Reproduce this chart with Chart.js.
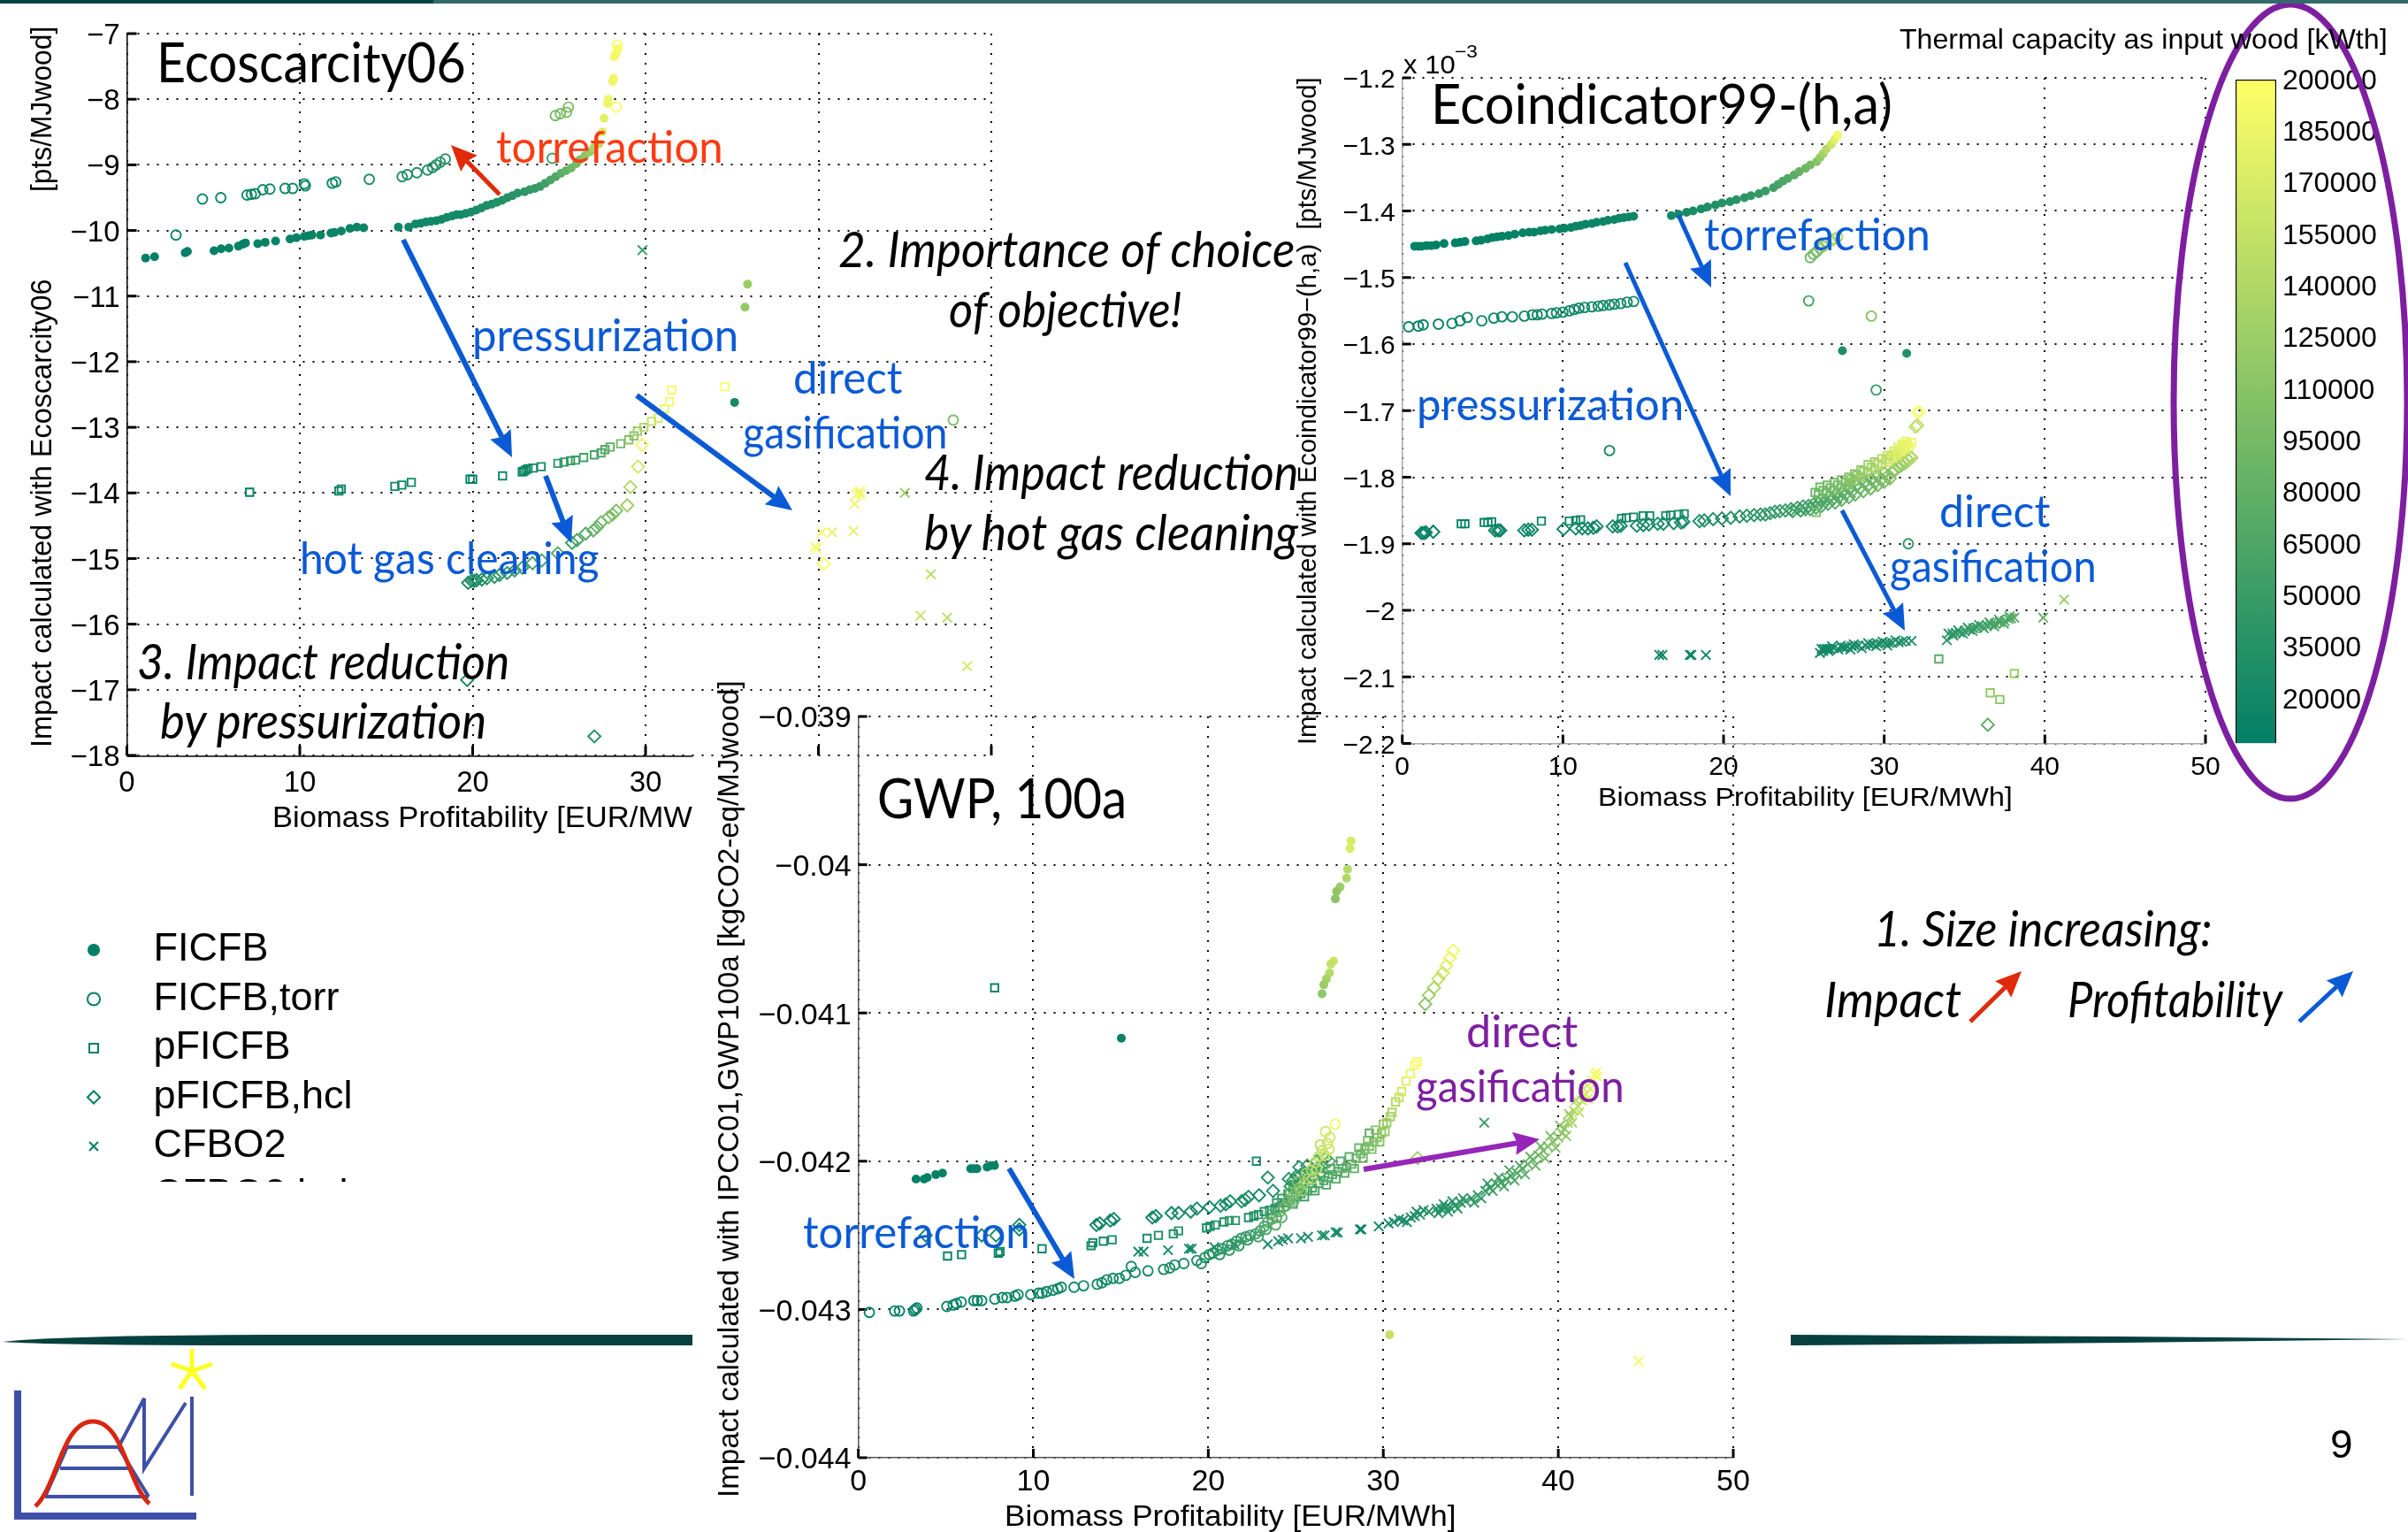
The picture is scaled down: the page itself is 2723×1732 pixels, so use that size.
<!DOCTYPE html>
<html>
<head>
<meta charset="utf-8">
<title>Impact vs profitability</title>
<script src="https://cdn.jsdelivr.net/npm/chart.js@4"></script>
<style>
  html, body { margin: 0; padding: 0; background: #fff; }
  #page { position: relative; width: 2723px; height: 1732px; overflow: hidden; background: #fff; }
  #page canvas { position: absolute; left: 0; top: 0; }
  .note { position: absolute; white-space: pre; line-height: 1; transform-origin: 0 50%; font-family: Lato, sans-serif; z-index: 6; }
  .axis-label { font-family: "Liberation Sans", sans-serif; color: #000; }
  .mask { position: absolute; background: #fff; }
</style>
</head>
<body>
<div id="page">
  <canvas id="eco_chart" style="z-index:1"></canvas>
  <canvas id="legend_chart" style="z-index:1"></canvas>
  <div class="mask" style="left:783px;top:857px;width:420px;height:90px;z-index:2"></div>
  <div class="mask" style="left:60px;top:1336px;width:600px;height:70px;z-index:2"></div>
  <canvas id="gwp_chart" style="z-index:3"></canvas>
  <canvas id="ind_chart" style="z-index:4"></canvas>
  <canvas id="bar_chart" style="z-index:4"></canvas>
  <svg id="deco" width="2723" height="1732" style="position:absolute;left:0;top:0;z-index:5"></svg>
</div>
<script>
// every point is [profitability, impact, thermal capacity kW]
var x_ticks = [0, 10, 20, 30, 40, 50];
var capacity_ticks = [200000, 185000, 170000, 155000, 140000, 125000, 110000, 95000, 80000, 65000, 50000, 35000, 20000];
var legend_names = ['FICFB', 'FICFB,torr', 'pFICFB', 'pFICFB,hcl', 'CFBO2', 'CFBO2,hcl'];

// Ecoscarcity06
var eco_y_ticks = [-7, -8, -9, -10, -11, -12, -13, -14, -15, -16, -17, -18];
var eco_ficfb = [[1.08,-10.42,8000],[1.6,-10.4,8000],[3.37,-10.34,8000],[3.5,-10.32,9000],[5.04,-10.31,9000],[5.45,-10.28,9000],[5.9,-10.27,10000],[6.45,-10.24,10000],[6.7,-10.21,10000],[6.86,-10.19,10000],[7.57,-10.2,11000],[8,-10.18,11000],[8.6,-10.16,11000],[9.44,-10.13,12000],[9.8,-10.11,12000],[10.26,-10.09,12000],[10.5,-10.08,12000],[10.7,-10.07,13000],[11.2,-10.07,13000],[11.8,-10.04,13000],[12,-10.03,14000],[12.4,-10.01,14000],[12.9,-9.97,14000],[13.3,-9.95,15000],[13.7,-9.96,15000],[15.7,-9.95,18000],[16.3,-9.95,18000],[16.7,-9.9,19000],[17,-9.89,19000],[17.3,-9.87,20000],[17.6,-9.86,20000],[17.9,-9.85,21000],[18.2,-9.83,21000],[18.5,-9.8,22000],[18.8,-9.78,23000],[19.06,-9.76,24000],[19.3,-9.76,24000],[19.6,-9.74,25000],[19.9,-9.72,26000],[20.2,-9.69,27000],[20.5,-9.66,28000],[20.8,-9.62,29000],[21.1,-9.6,30000],[21.4,-9.57,32000],[21.7,-9.54,33000],[22,-9.5,35000],[22.3,-9.47,37000],[22.6,-9.43,39000],[23,-9.41,42000],[23.3,-9.38,45000],[23.6,-9.36,48000],[23.9,-9.33,52000],[24.2,-9.28,56000],[24.5,-9.23,62000],[24.8,-9.18,68000],[25.1,-9.13,75000],[25.4,-9.09,82000],[25.7,-9.05,90000],[26,-8.98,96000],[26.2,-8.92,102000],[26.5,-8.86,112000],[26.8,-8.8,122000],[27,-8.74,135000],[27.3,-8.68,150000],[27.5,-8.5,172000],[27.6,-8.29,178000],[27.8,-8.06,185000],[27.85,-8,186000],[28.1,-7.73,188000],[28.15,-7.68,188000],[28.2,-7.35,190000],[28.3,-7.3,192000],[28.4,-7.23,194000],[35.9,-10.82,125000],[35.75,-11.17,118000],[35.15,-12.62,22000]];
var eco_torr = [[2.84,-10.07,14000],[4.37,-9.52,16000],[5.43,-9.5,16000],[6.95,-9.46,17000],[7.2,-9.45,17000],[7.42,-9.44,18000],[7.86,-9.38,18000],[8.27,-9.37,19000],[9.15,-9.36,20000],[9.59,-9.36,20000],[10.26,-9.29,20000],[10.32,-9.32,20000],[11.88,-9.28,22000],[12.08,-9.26,22000],[14.02,-9.22,25000],[15.92,-9.18,26000],[16.22,-9.15,28000],[16.77,-9.12,30000],[17.39,-9.08,32000],[17.68,-9.04,33000],[17.89,-9,34000],[18.12,-8.96,35000],[18.42,-8.91,36000],[24.6,-8.9,55000],[24.78,-8.25,95000],[25.07,-8.22,98000],[25.43,-8.2,100000],[25.54,-8.12,105000],[28.3,-8.12,195000],[28.36,-7.18,195000],[47.8,-12.89,100000]];
var eco_pres = [[7.1,-13.99,9000],[12.26,-13.97,16000],[12.4,-13.94,16000],[15.5,-13.9,20000],[15.9,-13.88,20000],[16.45,-13.84,20000],[19.85,-13.79,12000],[20,-13.79,12000],[21.73,-13.74,22000],[22.87,-13.68,18000],[22.96,-13.67,18000],[23.08,-13.65,20000],[23.2,-13.63,22000],[23.5,-13.62,24000],[23.96,-13.6,25000],[24.93,-13.55,42000],[25.28,-13.53,45000],[25.66,-13.51,48000],[25.95,-13.5,50000],[26.42,-13.46,60000],[27.04,-13.42,62000],[27.42,-13.39,66000],[27.65,-13.34,70000],[27.95,-13.3,78000],[28.56,-13.25,95000],[29.03,-13.19,105000],[29.33,-13.13,112000],[29.53,-13.06,125000],[29.9,-13,140000],[30.35,-12.91,155000],[30.73,-12.86,170000],[31.1,-12.72,182000],[31.38,-12.61,190000],[31.52,-12.43,195000],[34.6,-12.38,195000]];
var eco_hcl = [[19.68,-16.85,20000],[27.04,-17.71,35000],[19.74,-15.37,25000],[19.94,-15.34,25000],[20.1,-15.34,26000],[20.23,-15.33,28000],[20.53,-15.32,30000],[20.82,-15.3,32000],[21.26,-15.28,35000],[21.55,-15.25,36000],[22,-15.22,40000],[22.43,-15.18,45000],[22.87,-15.14,52000],[23.46,-15.07,60000],[23.99,-15.03,65000],[24.93,-14.92,75000],[25.75,-14.76,50000],[26.04,-14.72,60000],[26.54,-14.62,70000],[26.98,-14.57,80000],[27.2,-14.52,85000],[27.42,-14.45,88000],[27.86,-14.37,98000],[28.1,-14.33,102000],[28.3,-14.27,105000],[28.94,-14.19,125000],[29.12,-13.91,140000],[29.56,-13.6,165000],[29.8,-13.27,190000],[40.3,-15.08,195000]];
var eco_cfb = [[29.82,-10.3,50000],[42.3,-14,190000],[42.2,-14.03,190000],[42.4,-13.98,190000],[42.45,-14.02,188000],[42.1,-14.17,185000],[45,-14,125000],[42.03,-14.58,180000],[40.8,-14.6,180000],[40.2,-14.6,195000],[39.9,-14.85,195000],[39.8,-14.82,195000],[46.5,-15.24,150000],[45.9,-15.87,160000],[47.45,-15.9,150000],[48.6,-16.64,165000]];

// Ecoindicator99 (axis in units of 1e-3)
var ind_y_ticks = [-1.2, -1.3, -1.4, -1.5, -1.6, -1.7, -1.8, -1.9, -2, -2.1, -2.2];
var ind_ficfb = [[0.77,-1.453,8000],[1,-1.453,8000],[1.2,-1.453,8000],[1.5,-1.452,8000],[1.8,-1.452,9000],[2.1,-1.451,9000],[2.6,-1.449,9000],[3.3,-1.448,9000],[3.6,-1.447,10000],[3.9,-1.446,10000],[4.6,-1.445,10000],[4.9,-1.444,10000],[5.3,-1.442,11000],[5.6,-1.44,11000],[5.9,-1.439,11000],[6.2,-1.438,11000],[6.6,-1.437,12000],[7,-1.435,12000],[7.5,-1.433,12000],[7.9,-1.432,12000],[8.2,-1.432,13000],[8.6,-1.43,13000],[8.9,-1.429,13000],[9.3,-1.428,14000],[9.8,-1.427,14000],[10.1,-1.426,14000],[10.5,-1.425,15000],[10.8,-1.423,15000],[11.1,-1.422,15000],[11.4,-1.42,16000],[11.8,-1.419,16000],[12.1,-1.417,16000],[12.5,-1.416,17000],[12.8,-1.414,17000],[13.2,-1.413,17000],[13.5,-1.411,18000],[13.8,-1.41,18000],[14.1,-1.409,18000],[14.4,-1.408,18000],[16.75,-1.407,22000],[17.2,-1.405,23000],[17.7,-1.402,25000],[18.1,-1.4,26000],[18.6,-1.397,28000],[19,-1.394,30000],[19.5,-1.391,32000],[19.9,-1.388,34000],[20.4,-1.386,36000],[20.8,-1.383,38000],[21.3,-1.38,40000],[21.7,-1.377,43000],[22.2,-1.374,46000],[22.6,-1.37,50000],[23.1,-1.365,55000],[23.4,-1.36,60000],[23.7,-1.355,65000],[24,-1.351,70000],[24.4,-1.346,75000],[24.7,-1.341,82000],[25.1,-1.336,90000],[25.4,-1.331,98000],[25.8,-1.326,108000],[26,-1.32,118000],[26.2,-1.314,130000],[26.4,-1.307,145000],[26.7,-1.3,160000],[26.9,-1.293,175000],[27.1,-1.286,190000],[27.4,-1.61,30000],[31.4,-1.614,32000]];
var ind_torr = [[0.4,-1.574,10000],[1,-1.573,10000],[1.3,-1.571,11000],[2.25,-1.57,12000],[3.1,-1.569,13000],[3.6,-1.565,13000],[4.05,-1.56,14000],[4.95,-1.565,14000],[5.7,-1.561,15000],[6.2,-1.559,15000],[6.85,-1.559,16000],[7.6,-1.558,16000],[8.1,-1.556,17000],[8.4,-1.556,17000],[8.7,-1.555,17000],[9.3,-1.554,18000],[9.6,-1.553,18000],[10,-1.552,18000],[10.4,-1.55,18000],[10.7,-1.548,19000],[11,-1.546,19000],[11.35,-1.545,19000],[11.8,-1.544,20000],[12.2,-1.543,20000],[12.5,-1.542,20000],[12.9,-1.541,21000],[13.2,-1.54,21000],[13.6,-1.539,21000],[14,-1.537,22000],[14.4,-1.536,22000],[25.4,-1.47,90000],[25.6,-1.465,95000],[25.8,-1.461,100000],[26,-1.456,108000],[26.2,-1.453,115000],[26.4,-1.449,122000],[26.7,-1.445,130000],[26.9,-1.442,135000],[27.1,-1.439,140000],[25.3,-1.535,60000],[29.2,-1.558,110000],[29.5,-1.669,50000],[12.9,-1.76,25000],[31.5,-1.9,40000]];
var ind_pres = [[3.67,-1.87,12000],[3.9,-1.87,12000],[5.1,-1.868,14000],[5.33,-1.868,14000],[5.56,-1.867,14000],[8.66,-1.866,20000],[10.4,-1.866,20000],[10.8,-1.865,20000],[11.1,-1.864,20000],[13.65,-1.862,18000],[13.95,-1.861,18000],[14.4,-1.86,18000],[15,-1.858,20000],[15.4,-1.858,20000],[16.4,-1.858,25000],[16.7,-1.857,25000],[17.2,-1.856,25000],[17.55,-1.855,25000],[25.77,-1.853,100000],[25.7,-1.823,90000],[26.2,-1.82,92000],[26.65,-1.816,95000],[27.1,-1.812,98000],[27.6,-1.808,102000],[27.95,-1.803,108000],[28.3,-1.797,115000],[28.7,-1.791,122000],[29.2,-1.785,130000],[29.6,-1.78,138000],[30.1,-1.773,150000],[30.4,-1.769,160000],[30.7,-1.765,170000],[30.95,-1.759,178000],[31.2,-1.753,182000],[31.45,-1.75,185000],[31.7,-1.748,188000],[32.1,-1.702,195000],[33.4,-2.073,75000],[38.1,-2.095,125000],[36.6,-2.124,120000],[37.2,-2.134,110000]];
var ind_pres_band = [[25.9,-1.826,91000],[26.4,-1.823,93000],[26.85,-1.82,96000],[27.3,-1.816,100000],[27.8,-1.812,105000],[28.15,-1.806,112000],[28.5,-1.8,118000],[28.95,-1.793,125000],[29.4,-1.788,135000],[29.85,-1.782,145000],[30.25,-1.777,155000],[30.55,-1.772,165000],[30.8,-1.768,175000],[31.05,-1.762,180000],[31.3,-1.758,183000],[31.55,-1.754,186000],[26,-1.815,92000],[26.45,-1.812,94000],[26.9,-1.808,97000],[27.35,-1.804,100000],[27.8,-1.8,106000],[28.15,-1.795,113000],[28.55,-1.789,120000],[29,-1.781,128000],[29.4,-1.777,135000],[29.85,-1.772,145000],[30.2,-1.767,155000],[30.6,-1.761,168000],[30.85,-1.755,176000],[31.1,-1.75,181000],[31.35,-1.746,184000]];
var ind_hcl = [[1.2,-1.884,8000],[1.35,-1.884,8000],[1.47,-1.883,8000],[1.93,-1.882,9000],[5.78,-1.88,12000],[5.96,-1.88,12000],[6.1,-1.88,12000],[7.6,-1.88,14000],[7.84,-1.879,14000],[8.07,-1.879,14000],[10.04,-1.878,18000],[10.8,-1.877,18000],[11.2,-1.877,18000],[11.56,-1.877,18000],[11.9,-1.876,18000],[12.1,-1.874,18000],[13.1,-1.874,20000],[13.4,-1.874,20000],[13.6,-1.873,20000],[14.6,-1.873,22000],[15,-1.872,22000],[15.35,-1.871,22000],[15.9,-1.87,24000],[16.25,-1.87,24000],[16.9,-1.869,25000],[17.35,-1.868,26000],[17.5,-1.867,26000],[18.5,-1.866,28000],[18.8,-1.865,28000],[19.35,-1.863,30000],[19.9,-1.862,30000],[20.45,-1.861,32000],[21,-1.859,34000],[21.45,-1.858,36000],[21.9,-1.857,38000],[22.3,-1.856,40000],[22.6,-1.856,42000],[22.9,-1.854,44000],[23.2,-1.852,46000],[23.5,-1.851,48000],[23.85,-1.85,50000],[24.2,-1.848,52000],[24.6,-1.846,54000],[24.95,-1.844,56000],[25.3,-1.843,58000],[25.6,-1.841,60000],[25.9,-1.84,62000],[26.35,-1.836,66000],[26.8,-1.833,70000],[27.2,-1.829,74000],[27.6,-1.825,78000],[28,-1.821,82000],[28.5,-1.816,86000],[29,-1.812,90000],[29.4,-1.808,95000],[29.8,-1.804,100000],[30.2,-1.799,105000],[30.5,-1.792,110000],[30.9,-1.785,118000],[31.1,-1.782,124000],[31.3,-1.779,130000],[31.5,-1.775,135000],[31.7,-1.771,140000],[31.95,-1.724,150000],[32.06,-1.722,152000],[32.15,-1.702,195000],[36.45,-2.172,75000]];
var ind_hcl_band = [[24.3,-1.851,52000],[24.8,-1.85,55000],[25.1,-1.848,57000],[25.4,-1.848,60000],[25.75,-1.846,62000],[26.1,-1.843,65000],[26.5,-1.84,68000],[26.95,-1.838,72000],[27.35,-1.834,76000],[27.8,-1.83,80000],[28.2,-1.826,84000],[28.7,-1.821,88000],[29.15,-1.817,92000],[29.6,-1.812,97000],[30,-1.807,102000],[30.35,-1.802,108000],[26.1,-1.834,65000],[26.55,-1.83,69000],[27,-1.826,73000],[27.4,-1.822,77000],[27.85,-1.817,80000],[28.25,-1.812,85000],[28.75,-1.808,89000],[29.2,-1.803,93000],[29.6,-1.798,98000],[30,-1.794,102000],[30.7,-1.789,114000],[31,-1.78,120000],[31.2,-1.776,127000],[31.4,-1.772,132000],[31.6,-1.769,138000]];
var ind_cfb = [[16,-2.067,15000],[16.2,-2.067,15000],[17.9,-2.067,18000],[18,-2.067,18000],[18.9,-2.067,18000],[26,-2.064,22000],[26.1,-2.058,22000],[26.25,-2.058,22000],[26.4,-2.058,22000],[26.5,-2.058,22000],[26.65,-2.058,23000],[26.85,-2.057,23000],[27.4,-2.056,24000],[27.55,-2.056,24000],[27.7,-2.055,24000],[28,-2.054,25000],[28.2,-2.053,25000],[28.4,-2.053,25000],[28.85,-2.053,26000],[29.1,-2.052,26000],[29.3,-2.051,26000],[29.6,-2.05,27000],[29.8,-2.05,27000],[30.1,-2.049,28000],[30.3,-2.049,28000],[30.5,-2.049,28000],[30.9,-2.048,29000],[31.1,-2.047,29000],[31.35,-2.046,29000],[31.7,-2.046,30000],[33.9,-2.045,40000],[34,-2.035,40000],[34.25,-2.035,41000],[34.45,-2.034,42000],[34.7,-2.033,43000],[35,-2.031,44000],[35.3,-2.029,46000],[35.55,-2.027,48000],[35.8,-2.026,50000],[36.1,-2.024,52000],[36.4,-2.023,54000],[36.65,-2.021,56000],[36.9,-2.02,58000],[37.2,-2.018,62000],[37.5,-2.016,65000],[37.75,-2.013,68000],[37.9,-2.012,70000],[38.1,-2.011,72000],[39.9,-2.011,85000],[41.2,-1.984,125000]];
var ind_cfb_band = [[26.2,-2.061,22000],[26.55,-2.061,22000],[26.75,-2.054,23000],[27.15,-2.059,23000],[27.3,-2.053,24000],[27.9,-2.059,25000],[28.1,-2.051,25000],[28.6,-2.057,25000],[29,-2.049,26000],[29.5,-2.054,27000],[29.9,-2.047,27000],[30.2,-2.053,28000],[30.7,-2.045,28000],[34.3,-2.038,41000],[34.6,-2.03,42000],[34.9,-2.035,44000],[35.2,-2.026,45000],[35.5,-2.031,47000],[35.9,-2.022,50000],[36.2,-2.027,52000],[36.55,-2.018,55000],[36.85,-2.024,58000],[37.15,-2.014,62000],[37.45,-2.02,66000],[37.8,-2.009,70000]];

// GWP 100a
var gwp_y_ticks = [-0.039, -0.04, -0.041, -0.042, -0.043, -0.044];
var gwp_ficfb = [[3.3,-0.04212,8000],[3.76,-0.04212,8000],[3.94,-0.04211,8000],[4.43,-0.04209,9000],[4.81,-0.04208,9000],[6.42,-0.04205,10000],[6.6,-0.04205,10000],[6.78,-0.04205,10000],[7.36,-0.04204,10000],[7.56,-0.04203,11000],[7.78,-0.04203,11000],[15.03,-0.04117,10000],[30.36,-0.04317,155000],[28.16,-0.03984,170000],[28.1,-0.03989,170000],[27.96,-0.04003,145000],[27.9,-0.04009,140000],[27.53,-0.04015,125000],[27.33,-0.04018,115000],[27.26,-0.04023,110000],[27.16,-0.04065,160000],[27,-0.04067,155000],[26.93,-0.04073,145000],[26.75,-0.04077,135000],[26.6,-0.04081,125000],[26.5,-0.04087,115000]];
var gwp_torr = [[0.63,-0.04302,9000],[2.08,-0.04301,10000],[2.35,-0.04301,10000],[3.16,-0.04301,10000],[3.25,-0.043,10000],[3.35,-0.04299,10000],[5.06,-0.04298,12000],[5.42,-0.04297,12000],[5.6,-0.04296,12000],[5.88,-0.04295,13000],[6.6,-0.04294,13000],[6.8,-0.04294,13000],[7.05,-0.04294,14000],[7.8,-0.04293,15000],[8.23,-0.04292,15000],[8.5,-0.04292,16000],[8.95,-0.04291,16000],[9.13,-0.0429,16000],[9.86,-0.0429,17000],[10.3,-0.04289,17000],[10.5,-0.04289,17000],[10.76,-0.04288,18000],[11.12,-0.04287,18000],[11.4,-0.04286,18000],[11.6,-0.04285,19000],[12.33,-0.04285,19000],[12.87,-0.04284,20000],[13.65,-0.04283,20000],[13.92,-0.04282,21000],[14.2,-0.0428,21000],[14.56,-0.04279,22000],[14.92,-0.04279,22000],[15.28,-0.04277,22000],[15.6,-0.04271,23000],[15.82,-0.04275,23000],[16.55,-0.04274,24000],[17.45,-0.04273,25000],[17.8,-0.04272,26000],[18.08,-0.0427,26000],[18.6,-0.04269,28000],[19.35,-0.04267,30000],[19.8,-0.04265,32000],[20.25,-0.04262,34000],[20.5,-0.0426,36000],[20.8,-0.04259,38000],[21.1,-0.04257,40000],[21.34,-0.04256,42000],[21.6,-0.04254,44000],[21.88,-0.04252,46000],[22.15,-0.04251,48000],[22.4,-0.0425,50000],[22.7,-0.04249,54000],[22.97,-0.04247,58000],[23.2,-0.04244,62000],[23.4,-0.04241,66000],[23.65,-0.04239,70000],[23.9,-0.04238,74000],[24.1,-0.04234,78000],[24.3,-0.04231,82000],[24.55,-0.04227,88000],[24.8,-0.04224,94000],[25,-0.04221,100000],[25.2,-0.04218,110000],[25.45,-0.04215,120000],[25.7,-0.04212,130000],[25.9,-0.04206,138000],[26.1,-0.04201,145000],[26.3,-0.04197,150000],[26.5,-0.04193,155000],[26.8,-0.04188,160000],[26.95,-0.04184,165000],[27.25,-0.04175,190000]];
var gwp_torr_band = [[19.6,-0.04269,31000],[20.05,-0.04263,33000],[20.65,-0.04263,37000],[21.2,-0.0426,41000],[21.75,-0.04257,45000],[22.25,-0.04253,49000],[22.85,-0.04251,56000],[23.3,-0.04246,64000],[23.55,-0.04236,68000],[23.85,-0.04243,72000],[24.2,-0.04238,80000],[24.45,-0.0423,85000],[24.7,-0.04221,92000],[24.9,-0.04227,97000],[25.1,-0.04214,105000],[25.35,-0.0422,115000],[25.6,-0.04208,125000],[25.95,-0.04212,140000],[26.2,-0.04205,148000],[26.4,-0.04189,152000],[26.65,-0.04196,158000],[26.9,-0.04192,162000],[26.7,-0.0418,165000]];
var gwp_pres = [[5.1,-0.04264,12000],[5.9,-0.04263,12000],[8,-0.04262,14000],[8.1,-0.04261,14000],[10.5,-0.04259,16000],[13.3,-0.04257,22000],[13.4,-0.04255,22000],[14,-0.04254,24000],[14.5,-0.04253,24000],[16.5,-0.04252,25000],[17.15,-0.0425,26000],[18,-0.04249,28000],[18.3,-0.04247,40000],[19.9,-0.04245,28000],[20.1,-0.04244,30000],[20.4,-0.04243,32000],[20.9,-0.04241,34000],[21.2,-0.0424,42000],[21.55,-0.0424,42000],[22.3,-0.04238,30000],[22.6,-0.04237,32000],[22.87,-0.04236,32000],[23.2,-0.04234,36000],[23.5,-0.04233,38000],[23.8,-0.04232,40000],[24.05,-0.04231,42000],[24.4,-0.04228,46000],[24.7,-0.04226,48000],[25,-0.04224,50000],[25.3,-0.04222,54000],[25.65,-0.0422,58000],[25.95,-0.04218,60000],[26.3,-0.04215,62000],[26.6,-0.04213,64000],[26.85,-0.04211,66000],[27.1,-0.04209,68000],[27.4,-0.04207,70000],[27.65,-0.04205,74000],[27.9,-0.04204,76000],[28.2,-0.04202,80000],[28.45,-0.04198,85000],[28.7,-0.04195,90000],[28.95,-0.04192,95000],[29.2,-0.0419,100000],[29.45,-0.04187,105000],[29.65,-0.04184,110000],[29.9,-0.04181,115000],[30.1,-0.0418,120000],[30.2,-0.04174,125000],[30.4,-0.0417,130000],[30.5,-0.04167,135000],[30.7,-0.0416,145000],[30.9,-0.04157,155000],[31.05,-0.04153,165000],[31.3,-0.04146,175000],[31.55,-0.04141,185000],[31.8,-0.04135,192000],[31.95,-0.04133,195000],[22.75,-0.042,30000],[29.2,-0.04181,75000],[7.79,-0.04083,12000]];
var gwp_pres_band = [[23.9,-0.04228,40000],[24.2,-0.04225,45000],[24.55,-0.04222,47000],[24.85,-0.04229,49000],[25.15,-0.04219,52000],[25.5,-0.04224,56000],[25.8,-0.04215,59000],[26.1,-0.0422,61000],[26.45,-0.0421,63000],[26.75,-0.04216,65000],[27,-0.04205,67000],[27.3,-0.04212,69000],[27.55,-0.042,72000],[27.8,-0.04208,75000],[28.05,-0.04197,78000],[28.35,-0.04205,82000],[28.6,-0.04191,88000],[28.85,-0.04198,92000],[29.1,-0.04186,97000],[29.35,-0.04192,103000],[29.55,-0.04179,108000],[29.8,-0.04187,113000],[30,-0.04175,118000]];
var gwp_hcl = [[3.85,-0.0425,16000],[7.05,-0.0425,18000],[7.87,-0.0425,18000],[9.2,-0.04246,20000],[9.2,-0.04243,20000],[13.6,-0.04243,16000],[13.8,-0.04242,16000],[14.4,-0.0424,16000],[14.6,-0.04239,16000],[16.8,-0.04238,18000],[17,-0.04237,18000],[17.9,-0.04235,20000],[18.3,-0.04235,22000],[19,-0.04234,24000],[19.35,-0.04232,24000],[20.07,-0.04231,22000],[20.7,-0.0423,24000],[21,-0.04229,24000],[21.25,-0.04227,26000],[21.9,-0.04227,28000],[22.1,-0.04226,28000],[22.3,-0.04224,28000],[22.9,-0.04223,20000],[23.4,-0.04211,32000],[23.7,-0.0422,30000],[24.7,-0.04217,38000],[24.85,-0.04213,38000],[25.04,-0.0421,40000],[25.3,-0.04209,42000],[25.5,-0.04208,44000],[25.8,-0.04207,48000],[26.04,-0.04206,52000],[26.3,-0.04204,56000],[26.5,-0.04203,60000],[26.9,-0.042,65000],[31.96,-0.04198,130000],[34,-0.04058,190000],[33.8,-0.04063,185000],[33.6,-0.04068,175000],[33.4,-0.04073,165000],[33.15,-0.04077,155000],[32.9,-0.04083,140000],[32.6,-0.04088,125000],[32.4,-0.04094,110000]];
var gwp_hcl_band = [[24.6,-0.04212,36000],[24.95,-0.04218,39000],[25.2,-0.04204,41000],[25.4,-0.04213,43000],[25.65,-0.04203,46000],[25.95,-0.0421,50000],[26.2,-0.042,54000],[26.4,-0.04208,58000],[26.7,-0.04198,62000]];
var gwp_cfb = [[16,-0.04261,18000],[16.3,-0.04261,18000],[17.7,-0.0426,20000],[18.9,-0.04259,20000],[19.05,-0.04259,20000],[20.35,-0.04258,24000],[21.5,-0.04256,20000],[23.4,-0.04256,24000],[24,-0.04254,25000],[24.26,-0.04253,25000],[24.56,-0.04252,26000],[25.3,-0.04252,26000],[25.7,-0.04251,27000],[26.5,-0.0425,27000],[26.65,-0.0425,27000],[27.27,-0.04248,20000],[27.4,-0.04248,20000],[28.66,-0.04246,15000],[28.75,-0.04246,15000],[29.74,-0.04244,20000],[30.3,-0.04242,24000],[30.6,-0.04241,25000],[31.13,-0.0424,25000],[31.57,-0.04238,28000],[31.8,-0.04237,28000],[32.1,-0.04236,28000],[32.6,-0.04234,30000],[33.04,-0.04232,32000],[33.3,-0.04232,32000],[33.57,-0.04231,34000],[33.8,-0.04231,36000],[34.1,-0.0423,38000],[34.43,-0.04228,40000],[34.7,-0.04227,42000],[35.04,-0.04225,44000],[35.4,-0.04223,46000],[35.83,-0.0422,48000],[36.1,-0.04218,50000],[36.43,-0.04215,54000],[36.75,-0.04214,58000],[37.04,-0.04212,62000],[37.3,-0.0421,66000],[37.65,-0.04208,70000],[37.95,-0.04205,74000],[38.26,-0.04202,80000],[38.55,-0.04199,86000],[38.87,-0.04196,92000],[39.15,-0.04193,96000],[39.4,-0.0419,100000],[39.7,-0.04187,104000],[40,-0.04184,108000],[40.2,-0.04181,112000],[40.35,-0.04178,118000],[40.55,-0.04174,125000],[40.7,-0.0417,132000],[40.9,-0.04166,140000],[41.13,-0.04163,150000],[41.35,-0.04159,160000],[41.57,-0.04155,170000],[41.83,-0.04151,180000],[42.09,-0.04142,190000],[42.17,-0.0414,195000],[35.77,-0.04174,50000],[44.6,-0.04335,192000]];
var gwp_cfb_band = [[33.15,-0.04235,32000],[33.45,-0.04229,33000],[33.7,-0.04234,35000],[33.95,-0.04227,37000],[34.25,-0.04232,39000],[34.55,-0.04225,41000],[35.2,-0.04228,45000],[35.6,-0.04225,47000],[35.95,-0.04215,49000],[36.25,-0.0422,52000],[36.6,-0.04211,56000],[36.9,-0.04217,60000],[37.2,-0.04206,64000],[37.5,-0.04213,68000],[37.8,-0.04203,72000],[38.1,-0.04209,77000],[38.4,-0.04197,83000],[38.7,-0.04203,89000],[39,-0.0419,94000],[39.25,-0.04198,98000],[39.55,-0.04183,102000],[39.85,-0.04191,106000],[40.1,-0.04176,110000],[40.45,-0.04183,120000],[40.6,-0.04168,128000],[40.8,-0.04174,136000],[41,-0.04159,145000],[41.2,-0.04167,155000],[41.45,-0.04151,165000],[41.7,-0.04158,175000],[41.95,-0.04146,185000],[42.25,-0.04143,192000],[30.9,-0.04239,24000],[31.35,-0.04241,26000],[32.3,-0.04233,29000],[31.9,-0.04234,28000]];

var TICK_FONT = '"Liberation Sans", Arial, sans-serif';
var BAND_MIN = 7000;
var BAND_MAX = 200000;
// room kept for tick labels, they are clipped to the scale box
var Y_AXIS_W = 130;
var X_AXIS_H = 60;

function capacityColor(kw) {
  var t = (kw - BAND_MIN) / (BAND_MAX - BAND_MIN);
  return 'rgb(' + Math.round(255 * t) + ',' + Math.round(127 + 128 * t) + ',102)';
}

function series(name, points, style) {
  var colors = points.map(function (p) { return capacityColor(p[2]); });
  var data = points.map(function (p) { return { x: p[0], y: p[1] }; });
  var filled = style === 'dot';
  var pointStyle = { dot: 'circle', ring: 'circle', square: 'rect', diamond: 'rectRot', cross: 'crossRot' }[style];
  var radius = { dot: 5, ring: 5.5, square: 6, diamond: 7, cross: 7.5 }[style];
  return {
    label: name,
    data: data,
    pointStyle: pointStyle,
    pointRadius: radius,
    pointBorderWidth: filled ? 0 : 1.9,
    pointBorderColor: colors,
    pointBackgroundColor: filled ? colors : 'rgba(0,0,0,0)'
  };
}

function tickText(value) {
  return String(value).replace('-', '\u2212');
}

// the plot box is given in page pixels, so the canvas can stay the size of the page
function makeScatter(canvasId, box, yTicks, yMin, yMax, fontSize, datasets, opts) {
  var canvas = document.getElementById(canvasId);
  canvas.width = 2723;
  canvas.height = 1732;
  var grid = { color: '#000', lineWidth: 2, drawTicks: false };
  return new Chart(canvas, {
    type: 'scatter',
    data: { datasets: datasets },
    options: {
      responsive: false,
      animation: false,
      layout: { padding: { left: box.left - Y_AXIS_W, top: box.top, right: 2723 - box.right, bottom: 1732 - box.bottom - X_AXIS_H } },
      plugins: { legend: { display: false }, tooltip: { enabled: false }, innerTicks: opts },
      scales: {
        x: {
          type: 'linear', min: 0, max: 50,
          afterFit: function (s) { s.height = X_AXIS_H; },
          afterBuildTicks: function (s) { s.ticks = x_ticks.map(function (v) { return { value: v }; }); },
          grid: grid,
          border: { display: !opts.xEnd, color: opts.borderColor, width: 1.5, dash: [2, 9] },
          ticks: { autoSkip: false, maxRotation: 0, color: '#000', padding: opts.xPad, font: { family: TICK_FONT, size: fontSize }, callback: tickText }
        },
        y: {
          type: 'linear', min: yMin, max: yMax,
          afterFit: function (s) { s.width = Y_AXIS_W; },
          afterBuildTicks: function (s) { s.ticks = yTicks.map(function (v) { return { value: v }; }); },
          grid: grid,
          border: { color: opts.borderColor, width: 1.5, dash: [2, 9] },
          ticks: { autoSkip: false, color: '#000', padding: 8, labelOffset: 3, font: { family: TICK_FONT, size: fontSize }, callback: tickText }
        }
      }
    }
  });
}

// matlab draws its tick marks inside the box
Chart.register({
  id: 'innerTicks',
  beforeDatasetsDraw: function (chart, args, opts) {
    if (!opts.length) { return; }
    var ctx = chart.ctx;
    var area = chart.chartArea;
    ctx.save();
    ctx.strokeStyle = '#000';
    ctx.lineWidth = 3;
    chart.scales.x.ticks.forEach(function (t) {
      var px = chart.scales.x.getPixelForValue(t.value);
      ctx.beginPath();
      ctx.moveTo(px, area.bottom);
      ctx.lineTo(px, area.bottom - opts.length);
      ctx.stroke();
    });
    chart.scales.y.ticks.forEach(function (t) {
      var py = chart.scales.y.getPixelForValue(t.value);
      ctx.beginPath();
      ctx.moveTo(area.left, py);
      ctx.lineTo(area.left + opts.length, py);
      ctx.stroke();
    });
    if (opts.xEnd) {
      ctx.lineWidth = 1.5;
      ctx.beginPath();
      ctx.moveTo(area.left, area.bottom + 1);
      ctx.lineTo(opts.xEnd, area.bottom + 1);
      ctx.stroke();
    }
    ctx.restore();
  }
});

makeScatter('eco_chart', { left: 143.5, right: 1121, top: 38, bottom: 854 }, eco_y_ticks, -18, -7, 33, [
  series('FICFB', eco_ficfb, 'dot'),
  series('FICFB,torr', eco_torr, 'ring'),
  series('pFICFB', eco_pres, 'square'),
  series('pFICFB,hcl', eco_hcl, 'diamond'),
  series('CFBO2', eco_cfb, 'cross')
], { length: 11, xPad: 12, borderColor: '#000', xEnd: 783 });

makeScatter('gwp_chart', { left: 970.6, right: 1960, top: 810, bottom: 1648 }, gwp_y_ticks, -0.044, -0.039, 34, [
  series('FICFB', gwp_ficfb, 'dot'),
  series('FICFB,torr', gwp_torr.concat(gwp_torr_band), 'ring'),
  series('pFICFB', gwp_pres.concat(gwp_pres_band), 'square'),
  series('pFICFB,hcl', gwp_hcl.concat(gwp_hcl_band), 'diamond'),
  series('CFBO2', gwp_cfb.concat(gwp_cfb_band), 'cross')
], { length: 10, xPad: 7, borderColor: '#555' });

makeScatter('ind_chart', { left: 1585.7, right: 2494, top: 88, bottom: 840.5 }, ind_y_ticks, -2.2, -1.2, 30, [
  series('FICFB', ind_ficfb, 'dot'),
  series('FICFB,torr', ind_torr, 'ring'),
  series('pFICFB', ind_pres.concat(ind_pres_band), 'square'),
  series('pFICFB,hcl', ind_hcl.concat(ind_hcl_band), 'diamond'),
  series('CFBO2', ind_cfb.concat(ind_cfb_band), 'cross')
], { length: 10, xPad: 9, borderColor: '#aaa' });

// colour bar: one floating bar over the capacity axis
var barCanvas = document.getElementById('bar_chart');
barCanvas.width = 2723;
barCanvas.height = 1732;
new Chart(barCanvas, {
  type: 'bar',
  data: {
    labels: ['capacity'],
    datasets: [{
      data: [[BAND_MIN, BAND_MAX]],
      barPercentage: 1,
      categoryPercentage: 1,
      borderWidth: 1.5,
      borderColor: '#000',
      backgroundColor: function (ctx) {
        var area = ctx.chart.chartArea;
        if (!area) { return capacityColor(BAND_MIN); }
        var g = ctx.chart.ctx.createLinearGradient(0, area.bottom, 0, area.top);
        g.addColorStop(0, capacityColor(BAND_MIN));
        g.addColorStop(1, capacityColor(BAND_MAX));
        return g;
      }
    }]
  },
  options: {
    responsive: false,
    animation: false,
    layout: { padding: { left: 2528, top: 90, right: 2723 - 2574 - 125, bottom: 1732 - 840.5 } },
    plugins: { legend: { display: false }, tooltip: { enabled: false } },
    scales: {
      x: { display: false },
      y: {
        position: 'right',
        min: BAND_MIN,
        max: BAND_MAX,
        afterFit: function (s) { s.width = 125; },
        afterBuildTicks: function (s) { s.ticks = capacity_ticks.map(function (v) { return { value: v }; }); },
        grid: { display: false, drawTicks: false },
        border: { display: false },
        ticks: { autoSkip: false, color: '#000', padding: 7, labelOffset: 2, font: { family: TICK_FONT, size: 32 }, callback: function (v) { return String(v); } }
      }
    }
  }
});

// marker key, an empty chart that only shows its legend
var legendCanvas = document.getElementById('legend_chart');
legendCanvas.width = 700;
legendCanvas.height = 380;
legendCanvas.style.left = '73px';
legendCanvas.style.top = '1041px';
var keyStyles = [
  { pointStyle: 'circle', pointBackgroundColor: capacityColor(BAND_MIN), pointBorderColor: capacityColor(BAND_MIN), pointBorderWidth: 0 },
  { pointStyle: 'circle', pointBackgroundColor: '#fff', pointBorderColor: capacityColor(BAND_MIN), pointBorderWidth: 2 },
  { pointStyle: 'rect', pointBackgroundColor: '#fff', pointBorderColor: capacityColor(BAND_MIN), pointBorderWidth: 2 },
  { pointStyle: 'rectRot', pointBackgroundColor: '#fff', pointBorderColor: capacityColor(BAND_MIN), pointBorderWidth: 2 },
  { pointStyle: 'crossRot', pointBackgroundColor: '#fff', pointBorderColor: capacityColor(BAND_MIN), pointBorderWidth: 2 },
  { pointStyle: 'cross', pointBackgroundColor: '#fff', pointBorderColor: capacityColor(BAND_MIN), pointBorderWidth: 2 }
];
new Chart(legendCanvas, {
  type: 'scatter',
  data: {
    datasets: legend_names.map(function (name, i) {
      return Object.assign({ label: '\u2002' + name, data: [] }, keyStyles[i]);
    })
  },
  options: {
    responsive: false,
    animation: false,
    scales: { x: { display: false }, y: { display: false } },
    plugins: {
      tooltip: { enabled: false },
      legend: {
        position: 'left',
        align: 'start',
        labels: { usePointStyle: true, boxWidth: 45, boxHeight: 10, padding: 10.5, color: '#000', font: { family: TICK_FONT, size: 45 } }
      }
    }
  }
});

// slide text: squeezed to the width it takes in the picture
var page = document.getElementById('page');

function addNote(text, x0, x1, yc, size, color, italic) {
  var el = document.createElement('div');
  el.className = 'note';
  el.textContent = text;
  el.style.fontSize = size + 'px';
  el.style.color = color;
  el.style.fontStyle = italic ? 'italic' : 'normal';
  page.appendChild(el);
  el.style.left = x0 + 'px';
  el.style.top = (yc - size / 2) + 'px';
  el.style.transform = 'scaleX(' + ((x1 - x0) / el.offsetWidth) + ')';
  return el;
}

function addAxisLabel(text, x0, x1, yc, size) {
  var el = addNote(text, x0, x1, yc, size, '#000', false);
  el.classList.add('axis-label');
  el.style.transform = 'scaleX(' + ((x1 - x0) / el.offsetWidth) + ')';
}

function addSideLabel(text, xc, y0, y1, size) {
  var el = document.createElement('div');
  el.className = 'note axis-label';
  el.textContent = text;
  el.style.fontSize = size + 'px';
  page.appendChild(el);
  var scale = (y1 - y0) / el.offsetWidth;
  el.style.transformOrigin = '0 0';
  el.style.left = (xc - size / 2) + 'px';
  el.style.top = y1 + 'px';
  el.style.transform = 'rotate(-90deg) scaleX(' + scale + ')';
}

var BLUE = '#0a5ad6';
var RED = '#ff3b12';
var PURPLE = '#7d1fa0';

addNote('Ecoscarcity06', 177, 527, 69, 62, '#000');
addNote('torrefaction', 561, 818, 165, 50, RED);
addNote('pressurization', 534, 835, 378, 50, BLUE);
addNote('hot gas cleaning', 339, 678, 630, 50, BLUE);
addNote('3. Impact reduction', 155, 576, 747, 56, '#000', true);
addNote('by pressurization', 181, 550, 814, 56, '#000', true);
addNote('direct', 897, 1020, 426, 50, BLUE);
addNote('gasification', 840, 1072, 488, 50, BLUE);
addNote('2. Importance of choice', 948, 1464, 281, 56, '#000', true);
addNote('of objective!', 1073, 1337, 349, 56, '#000', true);
addNote('4. Impact reduction', 1045, 1468, 533, 56, '#000', true);
addNote('by hot gas cleaning', 1045, 1468, 601, 56, '#000', true);
addNote('Ecoindicator99-(h,a)', 1618, 2140, 116, 62, '#000');
addNote('torrefaction', 1927, 2183, 264, 50, BLUE);
addNote('pressurization', 1602, 1904, 456, 50, BLUE);
addNote('direct', 2193, 2318, 577, 50, BLUE);
addNote('gasification', 2137, 2371, 639, 50, BLUE);
addNote('GWP, 100a', 992, 1274, 901, 62, '#000');
addNote('torrefaction', 908, 1165, 1392, 50, BLUE);
addNote('direct', 1658, 1784, 1165, 50, PURPLE);
addNote('gasification', 1601, 1837, 1227, 50, PURPLE);
addNote('1. Size increasing:', 2119, 2501, 1049, 56, '#000', true);
addNote('Impact', 2063, 2218, 1129, 56, '#000', true);
addNote('Profitability', 2338, 2581, 1129, 56, '#000', true);

addAxisLabel('9', 2635, 2660, 1633, 44);
addAxisLabel('Thermal capacity as input wood [kWth]', 2148, 2700, 44, 32);
addAxisLabel('x 10', 1587, 1646, 73, 30);
addAxisLabel('\u22123', 1645, 1671, 58, 20);
addAxisLabel('Biomass Profitability [EUR/MW', 308, 783, 923, 33);
addAxisLabel('Biomass Profitability [EUR/MWh]', 1807, 2276, 901, 30);
addAxisLabel('Biomass Profitability [EUR/MWh]', 1136, 1646, 1713, 33);
addSideLabel('Impact calculated with Ecoscarcity06', 46, 315, 845, 34);
addSideLabel('[pts/MJwood]', 46, 30, 217, 34);
addSideLabel('Impact calculated with Ecoindicator99\u2212(h,a)  [pts/MJwood]', 1478, 87, 842, 30);
addSideLabel('Impact calculated with IPCC01,GWP100a [kgCO2-eq/MJwood]', 823, 769, 1693, 34);

// arrows, purple ring, slide rules and the lab logo
var deco = document.getElementById('deco');

function svgAdd(tag, attrs) {
  var el = document.createElementNS('http://www.w3.org/2000/svg', tag);
  Object.keys(attrs).forEach(function (k) { el.setAttribute(k, attrs[k]); });
  deco.appendChild(el);
}

function arrow(x0, y0, x1, y1, color, width) {
  var a = Math.atan2(y1 - y0, x1 - x0);
  var len = 32;
  var bx = x1 - Math.cos(a) * len * 0.8;
  var by = y1 - Math.sin(a) * len * 0.8;
  svgAdd('line', { x1: x0, y1: y0, x2: bx, y2: by, stroke: color, 'stroke-width': width });
  var pts = [
    [x1, y1],
    [x1 - Math.cos(a - 0.42) * len, y1 - Math.sin(a - 0.42) * len],
    [bx, by],
    [x1 - Math.cos(a + 0.42) * len, y1 - Math.sin(a + 0.42) * len]
  ];
  svgAdd('polygon', { points: pts.map(function (p) { return p.join(','); }).join(' '), fill: color });
}

arrow(565, 220, 510, 164, '#e02a0a', 5);
arrow(456, 271, 579, 517, BLUE, 6);
arrow(617, 538, 646, 614, BLUE, 6);
arrow(720, 447, 896, 577, BLUE, 6);
arrow(1898, 243, 1935, 325, BLUE, 5);
arrow(1838, 297, 1957, 561, BLUE, 5);
arrow(2083, 577, 2154, 713, BLUE, 5);
arrow(1141, 1321, 1215, 1446, BLUE, 6);
arrow(1542, 1322, 1741, 1288, '#9526b8', 6);
arrow(2228, 1155, 2286, 1098, '#e02a0a', 5);
arrow(2600, 1155, 2661, 1098, BLUE, 5);

svgAdd('ellipse', { cx: 2590, cy: 454, rx: 132, ry: 449, fill: 'none', stroke: PURPLE, 'stroke-width': 7 });

svgAdd('rect', { x: 0, y: 0, width: 490, height: 4, fill: '#06453f' });
svgAdd('rect', { x: 490, y: 0, width: 2233, height: 4, fill: '#336b6b' });
svgAdd('path', { d: 'M3 1517 Q60 1510 300 1509 L783 1509 L783 1521 L300 1521 Q60 1521 3 1517 Z', fill: '#06403f' });
svgAdd('path', { d: 'M2025 1509 L2400 1511 L2723 1514 L2400 1518 L2025 1521 Z', fill: '#06403f' });

var LOGO_BLUE = '#3d4fa8';
svgAdd('path', { d: 'M20 1572 L20 1714 L222 1714', fill: 'none', stroke: LOGO_BLUE, 'stroke-width': 8 });
svgAdd('path', { d: 'M51 1692 L76 1636 L134 1636 L163 1581 L163 1660 L210 1586 M217 1579 L217 1691 M68 1660 L146 1660 M51 1692 L168 1692 M134 1636 L168 1692', fill: 'none', stroke: LOGO_BLUE, 'stroke-width': 4 });
svgAdd('path', { d: 'M40 1703 C65 1680 70 1607 105 1607 C140 1607 145 1680 169 1700', fill: 'none', stroke: '#d8260f', 'stroke-width': 5 });
svgAdd('path', { d: 'M217 1525 L217 1550 M217 1550 L194 1542 M217 1550 L240 1542 M217 1550 L203 1570 M217 1550 L232 1570', fill: 'none', stroke: '#ffff20', 'stroke-width': 5 });
</script>
</body>
</html>
